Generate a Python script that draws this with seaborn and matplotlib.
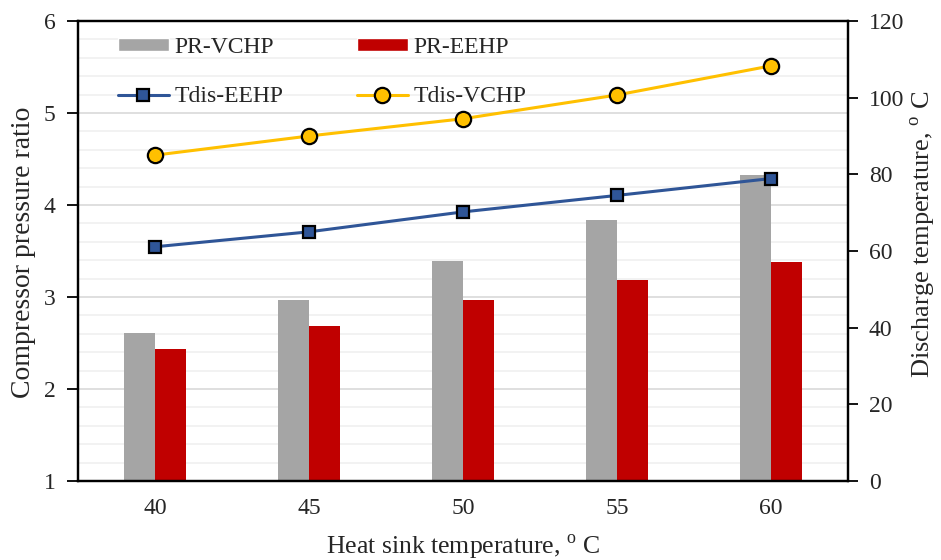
import numpy as np
import pandas as pd
import matplotlib
matplotlib.use("Agg")
import matplotlib.pyplot as plt
import seaborn as sns
from matplotlib.patches import Patch
from matplotlib.lines import Line2D
from matplotlib.ticker import MultipleLocator

# ---- data ----
sink_temps = ["40", "45", "50", "55", "60"]
pr_vchp = [2.61, 2.97, 3.39, 3.84, 4.33]
pr_eehp = [2.43, 2.69, 2.97, 3.18, 3.38]
tdis_eehp = [61.1, 65.0, 70.2, 74.5, 78.9]
tdis_vchp = [85.0, 90.0, 94.5, 100.7, 108.3]
left_ticks = [1, 2, 3, 4, 5, 6]
right_ticks = [0, 20, 40, 60, 80, 100, 120]

sns.set_theme(style="white")
plt.rcParams["font.family"] = ["Liberation Serif", "DejaVu Serif"]
plt.rcParams["mathtext.fontset"] = "custom"
plt.rcParams["mathtext.rm"] = "Liberation Serif"

df = pd.DataFrame({
    "temp": sink_temps * 2,
    "pr": pr_vchp + pr_eehp,
    "series": ["PR-VCHP"] * 5 + ["PR-EEHP"] * 5,
})

fig = plt.figure(figsize=(9.41, 5.6), dpi=100)
ax = fig.add_axes([78 / 941, 1 - 481 / 560, 770 / 941, 460 / 560])

sns.barplot(data=df, x="temp", y="pr", hue="series", order=sink_temps,
            palette={"PR-VCHP": "#A5A5A5", "PR-EEHP": "#C00000"},
            width=0.4, gap=0, ax=ax, legend=False, saturation=1,
            edgecolor="none")
ax.set_ylim(1, 6)
ax.set_xlim(-0.5, 4.5)
ax.set_yticks(left_ticks)
ax.yaxis.set_minor_locator(MultipleLocator(0.2))
ax.grid(which="minor", axis="y", color="#F0F0F0", linewidth=1.2)
ax.grid(which="major", axis="y", color="#D9D9D9", linewidth=1.2)
ax.set_axisbelow(True)
ax.set_xlabel("Heat sink temperature, $^{\\mathrm{o}}$ C", fontsize=18.5)
ax.xaxis.set_label_coords(0.5, -0.112)
ax.set_ylabel("Compressor pressure ratio", fontsize=20)
ax.yaxis.set_label_coords(-0.0545, 0.497)
ax.tick_params(axis="y", which="major", direction="out", length=8, width=1.3,
               labelsize=17, left=True, color="black", pad=8)
ax.tick_params(axis="y", which="minor", left=False, length=0)
ax.tick_params(axis="x", labelsize=17, bottom=False, length=0, pad=12)
for s in ax.spines.values():
    s.set_color("black")
    s.set_linewidth(1.6)

ax2 = ax.twinx()
sns.pointplot(x=sink_temps, y=tdis_eehp, order=sink_temps, ax=ax2,
              color="#2F5597", markers="s", linestyles="-", errorbar=None)
sns.pointplot(x=sink_temps, y=tdis_vchp, order=sink_temps, ax=ax2,
              color="#FFC000", markers="o", linestyles="-", errorbar=None)
for ln, face, ms in zip(ax2.lines, ["#2F5597", "#FFC000"], [9, 11]):
    ln.set_linewidth(2.2)
    ln.set_markersize(ms)
    ln.set_markerfacecolor(face)
    ln.set_markeredgecolor("black")
    ln.set_markeredgewidth(1.6)
ax2.set_ylim(0, 120)
ax2.set_xlim(-0.5, 4.5)
ax2.set_yticks(right_ticks)
ax2.set_ylabel("Discharge temperature, $^{\\mathrm{o}}$ C", fontsize=19)
ax2.yaxis.set_label_coords(1.079, 0.537)
ax2.tick_params(axis="y", direction="out", length=7, width=1.3, labelsize=17,
                right=True, color="black", pad=8)
ax2.tick_params(axis="y", which="minor", right=False, left=False, length=0)
ax2.grid(False)
for s in ax2.spines.values():
    s.set_color("black")
    s.set_linewidth(1.6)

handles = [
    Patch(facecolor="#A5A5A5", label="PR-VCHP"),
    Line2D([0], [0], color="#2F5597", lw=2.2, marker="s", markersize=9,
           markerfacecolor="#2F5597", markeredgecolor="black", markeredgewidth=1.6,
           label="Tdis-EEHP"),
    Patch(facecolor="#C00000", label="PR-EEHP"),
    Line2D([0], [0], color="#FFC000", lw=2.2, marker="o", markersize=11,
           markerfacecolor="#FFC000", markeredgecolor="black", markeredgewidth=1.6,
           label="Tdis-VCHP"),
]
ax2.legend(handles=handles, ncol=2, loc="upper left", bbox_to_anchor=(0.052, 0.965),
           frameon=False, fontsize=17, handlelength=2.15, handleheight=0.5,
           labelspacing=1.2, columnspacing=3.1, handletextpad=0.25,
           borderpad=0, borderaxespad=0)

fig.savefig("out.png", dpi=100)
